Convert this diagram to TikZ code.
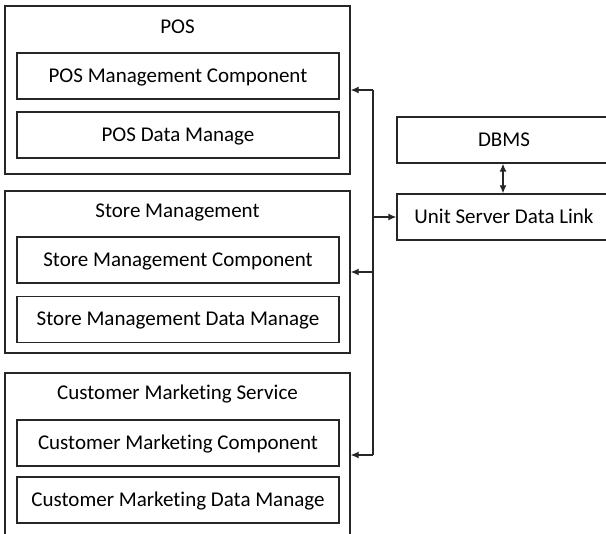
\documentclass[tikz,border=0pt]{standalone}
\usepackage{fontspec}
\setmainfont[Ligatures={NoCommon}]{Carlito}
\usetikzlibrary{arrows.meta}
\begin{document}
\begin{tikzpicture}[x=1pt,y=-1pt,
  box/.style={draw=black!85,line width=1.3pt,rectangle,inner sep=0pt,text height=13pt,text depth=0pt,font=\fontsize{21}{24}\selectfont},
  outerbox/.style={draw=black!85,line width=1.3pt,rectangle,inner sep=0pt},
  title/.style={inner sep=0pt,text height=13pt,text depth=0pt,font=\fontsize{21}{24}\selectfont},
  conn/.style={line width=1.3pt,draw=black!85,-{Latex[length=8pt,width=7pt]}},
]
\useasboundingbox (0,0) rectangle (606,534);
\begin{scope}
\clip (0,0) rectangle (606,534);
% POS
\node[outerbox,minimum width=345pt,minimum height=168pt] (pos) at (177.5,90) {};
\node[title] (postitle) at (177.5,27) {POS};
\node[box,minimum width=322pt,minimum height=46pt] (posmc) at (178,76) {POS Management Component};
\node[box,minimum width=322pt,minimum height=46pt] (posdm) at (178,135) {POS Data Manage};
% Store
\node[outerbox,minimum width=345pt,minimum height=162pt] (store) at (177.5,272) {};
\node[title] (storetitle) at (177.5,211) {Store Management};
\node[box,minimum width=322pt,minimum height=46pt] (storemc) at (178,260) {Store Management Component};
\node[box,minimum width=322pt,minimum height=46pt] (storedm) at (178,319.5) {Store Management Data Manage};
% Customer
\node[outerbox,minimum width=345pt,minimum height=172pt] (cust) at (177.5,459) {};
\node[title] (custtitle) at (177.5,393) {Customer Marketing Service};
\node[box,minimum width=322pt,minimum height=46pt] (custmc) at (178,443) {Customer Marketing Component};
\node[box,minimum width=322pt,minimum height=46pt] (custdm) at (178,500) {Customer Marketing Data Manage};
% Right
\node[box,minimum width=214pt,minimum height=46pt] (dbms) at (504,140) {DBMS};
\node[box,minimum width=214pt,minimum height=46pt] (usdl) at (504,217) {Unit Server Data Link};
% bus
\coordinate (bt) at (373,90);
\coordinate (bb) at (373,455);
\coordinate (bm) at (373,217);
\draw[line width=1.3pt,draw=black!85] (bt) -- (bb);
\draw[conn] (bt) -- (pos.east |- bt);
\draw[conn] (373,272) -- (store.east |- 0,272);
\draw[conn] (bb) -- (cust.east |- bb);
\draw[conn] (bm) -- (usdl.west |- bm);
\draw[conn,{Latex[length=8pt,width=7pt]}-{Latex[length=8pt,width=7pt]}] (dbms.south -| 503,0) -- (usdl.north -| 503,0);
\end{scope}
\end{tikzpicture}
\end{document}
